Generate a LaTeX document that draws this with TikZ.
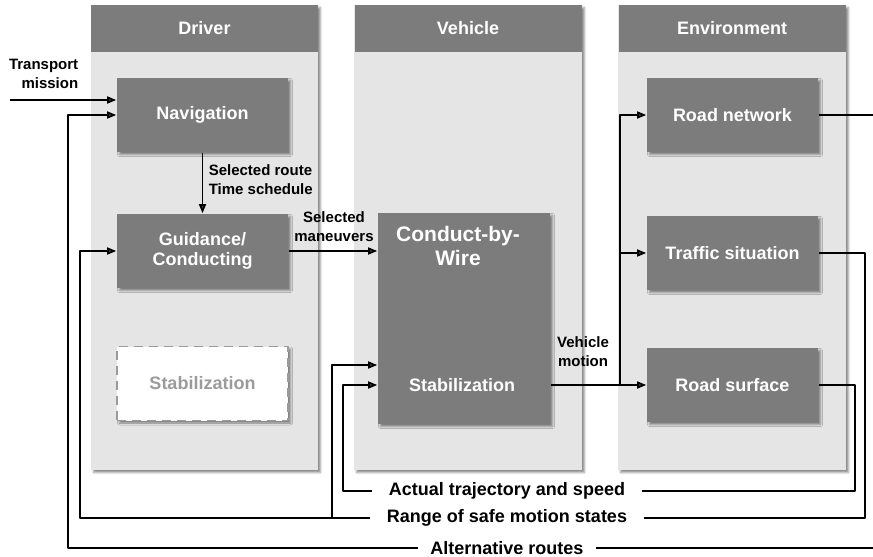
\documentclass[tikz,border=0pt]{standalone}
\usepackage{fontspec}
\setmainfont{Liberation Sans}
\usetikzlibrary{arrows.meta,shadows.blur}
\definecolor{boxgray}{RGB}{124,124,124}
\definecolor{colgray}{RGB}{229,229,229}
\definecolor{ghost}{RGB}{155,155,155}
\begin{document}
\begin{tikzpicture}[x=1pt, y=-1pt, line width=1.6pt, line join=round, >={Triangle[length=9pt,width=7pt]},
    font=\fontsize{15}{19}\selectfont\bfseries,
    shade/.style={blur shadow={shadow xshift=2.5pt, shadow yshift=-2.5pt, shadow blur radius=2pt, shadow opacity=45}},
    col/.style={fill=colgray, shade},
    hdr/.style={fill=boxgray, text=white, minimum width=227pt, minimum height=47pt, inner sep=0pt, font=\fontsize{18}{21}\selectfont\bfseries},
    blk/.style={fill=boxgray, text=white, minimum width=171pt, minimum height=74pt, inner sep=0pt, align=center, font=\fontsize{18}{21}\selectfont\bfseries, shade},
    lbl/.style={align=center, inner sep=1pt},
    bot/.style={inner ysep=0pt, inner xsep=16pt, font=\fontsize{18}{21}\selectfont\bfseries}]
    \useasboundingbox (0,0) rectangle (873,557);
    \path[col] (91,5) rectangle (318,470);
    \path[col] (354,5) rectangle (582,470);
    \path[col] (618,5) rectangle (846,470);
    \node[hdr] (drvhead) at (204.5,28.5) {Driver};
    \node[hdr] (vehhead) at (468,28.5) {Vehicle};
    \node[hdr] (envhead) at (732,28.5) {Environment};
    \node[blk] (nav) at (202.5,115) {Navigation};
    \node[blk] (guid) at (202.5,251) {Guidance/\\[-1pt]Conducting};
    \node[blk, fill=white, draw=ghost, dash pattern=on 9pt off 6pt, text=ghost] (dstab) at (202.5,383.5) {Stabilization};
    \node[blk, minimum width=172pt, minimum height=211pt] (cbw) at (464,318.5) {};
    \node[text=white, align=center, font=\fontsize{21}{24}\selectfont\bfseries] (cbwname) at (458,246) {Conduct-by-\\Wire};
    \node[text=white, font=\fontsize{18}{21}\selectfont\bfseries] (cbwstab) at (462,385) {Stabilization};
    \node[blk] (rnet) at (732.5,115) {Road network};
    \node[blk] (traf) at (732.5,253) {Traffic situation};
    \node[blk] (rsurf) at (732.5,385) {Road surface};
    \node[lbl, anchor=east, align=right] (tmlbl) at (80,73.5) {Transport\\mission};
    \node[lbl, anchor=west, align=left] (routelbl) at (207,179.5) {Selected route\\Time schedule};
    \node[lbl] (manlbl) at (334,227) {Selected\\maneuvers};
    \node[lbl] (motlbl) at (583,352) {Vehicle\\motion};
    \node[bot] (act) at (507,491) {Actual trajectory and speed};
    \node[bot] (rng) at (507,518) {Range of safe motion states};
    \node[bot, inner xsep=12pt] (alt) at (507,548) {Alternative routes};
    \coordinate (tm) at (10,100);
    \coordinate (vsplit) at (620,385);
    \coordinate (rnetR) at (873,115);
    \coordinate (altR) at (873,548);
    \coordinate (altL) at (68,548);
    \coordinate (rngR) at (865,518);
    \coordinate (rngL) at (80,518);
    \coordinate (rngB) at (332,518);
    \coordinate (actR) at (855,491);
    \coordinate (actL) at (343,491);
    \draw[->] (tm) -- (tm -| nav.west);
    \draw[->] (nav.south) -- (guid.north);
    \draw[->] (guid.east) -- (guid.east -| cbw.west);
    \draw[->] (cbw.east |- rsurf.west) -- (rsurf.west);
    \draw[->] (vsplit) |- (rnet.west);
    \draw[->] (vsplit |- traf.west) -- (traf.west);
    \draw (rnet.east) -- (rnetR);
    \draw (altR) -- (alt.east);
    \draw[->] (alt.west) -- (altL) |- (nav.west);
    \draw (traf.east) -| (rngR) -- (rng.east);
    \draw[->] (rng.west) -- (rngL) |- (guid.west);
    \draw[->] (rngB) |- (cbw.west |- 0,365);
    \draw (rsurf.east) -| (actR) -- (act.east);
    \draw[->] (act.west) -- (actL) |- (cbw.west |- rsurf.west);
\end{tikzpicture}
\end{document}
